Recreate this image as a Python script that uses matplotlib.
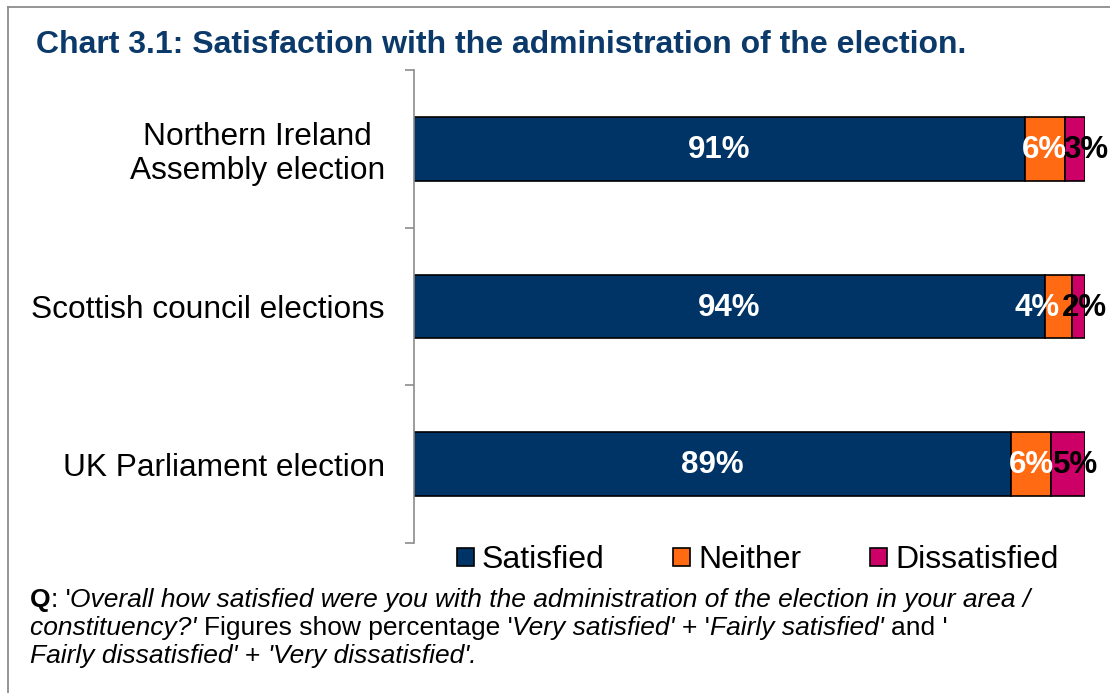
import matplotlib
matplotlib.use("Agg")
import matplotlib.pyplot as plt
from matplotlib.lines import Line2D
from matplotlib.patches import Patch

plt.rcParams["font.family"] = ["Liberation Sans", "DejaVu Sans"]

# Chart content
title = "Chart 3.1: Satisfaction with the administration of the election."
categories = ["Northern Ireland\nAssembly election",
              "Scottish council elections",
              "UK Parliament election"]
series_names = ["Satisfied", "Neither", "Dissatisfied"]
satisfied = [91, 94, 89]
neither = [6, 4, 6]
dissatisfied = [3, 2, 5]

colors = ["#003366", "#FF6A13", "#CC0066"]
label_colors = ["white", "white", "black"]
# small horizontal nudges (pixels) for crowded value labels, per series/bar
label_nudge = [[0, 0, 0], [0, -21, 0], [11, 6, 7]]

W, H, DPI = 1110, 693, 100
fig = plt.figure(figsize=(W / DPI, H / DPI), dpi=DPI)
fig.patch.set_facecolor("white")

# outer frame (top and left edges visible)
frame_kw = dict(transform=fig.transFigure, color="#8c8c8c", lw=1.3)
fig.add_artist(Line2D([8 / W, 1.0], [1 - 7 / H, 1 - 7 / H], **frame_kw))
fig.add_artist(Line2D([8 / W, 8 / W], [1 - 7 / H, 0.0], **frame_kw))

fig.text(36 / W, 1 - 53 / H, title, fontsize=23, fontweight="bold",
         color="#0B3A6A", ha="left", va="baseline")

ax = fig.add_axes([414 / W, (H - 543) / H, (1085 - 414) / W, (543 - 70) / H])
ypos = list(range(len(categories)))
series = [satisfied, neither, dissatisfied]
lefts = [0] * len(categories)
for s_i, (vals, col) in enumerate(zip(series, colors)):
    ax.barh(ypos, vals, left=lefts, height=0.405, color=col,
            edgecolor="black", linewidth=1.2, zorder=2)
    for b_i, (v, l) in enumerate(zip(vals, lefts)):
        ax.annotate(f"{v}%", xy=(l + v / 2, ypos[b_i]),
                    xytext=(label_nudge[s_i][b_i], -1), textcoords="offset pixels",
                    ha="center", va="center", fontsize=22.5, fontweight="bold",
                    color=label_colors[s_i], zorder=3, annotation_clip=False)
    lefts = [a + b for a, b in zip(lefts, vals)]

ax.set_xlim(0, 100)
ax.set_ylim(len(categories) - 0.5, -0.5)
for side in ["top", "right", "bottom"]:
    ax.spines[side].set_visible(False)
ax.spines["left"].set_color("#8c8c8c")
ax.spines["left"].set_linewidth(1.2)
ax.set_xticks([])
ax.set_yticks([i - 0.5 for i in range(len(categories) + 1)])
ax.set_yticklabels([])
ax.tick_params(axis="y", which="major", length=6.5, width=1.2,
               color="#8c8c8c", direction="out")
ax.set_yticks(ypos, minor=True)
ax.set_yticklabels(categories, minor=True, fontsize=22.8)
ax.tick_params(axis="y", which="minor", length=0, pad=21)
for lab in ax.get_yticklabels(minor=True):
    lab.set_multialignment("center")
    lab.set_linespacing(1.15)

handles = [Patch(facecolor=c, edgecolor="black", linewidth=1.2, label=n)
           for c, n in zip(colors, series_names)]
fig.legend(handles=handles, loc="center left",
           bbox_to_anchor=(457 / W, 1 - 560 / H), ncol=3, frameon=False,
           fontsize=23, handlelength=0.53, handleheight=0.5,
           handletextpad=0.25, columnspacing=2.15, borderpad=0,
           borderaxespad=0)

# question note with mixed bold / italic / regular runs
note_lines = [
    [("Q", "bold"), (": '", "regular"),
     ("Overall how satisfied were you with the administration of the election in your area /", "italic")],
    [("constituency?' ", "italic"), ("Figures show percentage '", "regular"),
     ("Very satisfied' ", "italic"), ("+ '", "regular"),
     ("Fairly satisfied' ", "italic"), ("and '", "regular")],
    [("Fairly dissatisfied' ", "italic"), ("+ ", "regular"),
     ("'Very dissatisfied'.", "italic")],
]
note_baselines = [607, 635, 663]
NOTE_SIZE = 19

renderer = fig.canvas.get_renderer()


def run_style(kind):
    if kind == "bold":
        return dict(fontweight="bold", fontstyle="normal")
    if kind == "italic":
        return dict(fontweight="normal", fontstyle="italic")
    return dict(fontweight="normal", fontstyle="normal")


def advance(s, kind):
    t = fig.text(0, 0, s + "|", fontsize=NOTE_SIZE, **run_style(kind))
    w1 = t.get_window_extent(renderer).width
    t.set_text("|")
    w2 = t.get_window_extent(renderer).width
    t.remove()
    return w1 - w2


for runs, base in zip(note_lines, note_baselines):
    x = 30.0
    for s, kind in runs:
        fig.text(x / W, 1 - base / H, s, fontsize=NOTE_SIZE, color="black",
                 ha="left", va="baseline", **run_style(kind))
        x += advance(s, kind)

fig.savefig("out.png", dpi=DPI, facecolor="white")
